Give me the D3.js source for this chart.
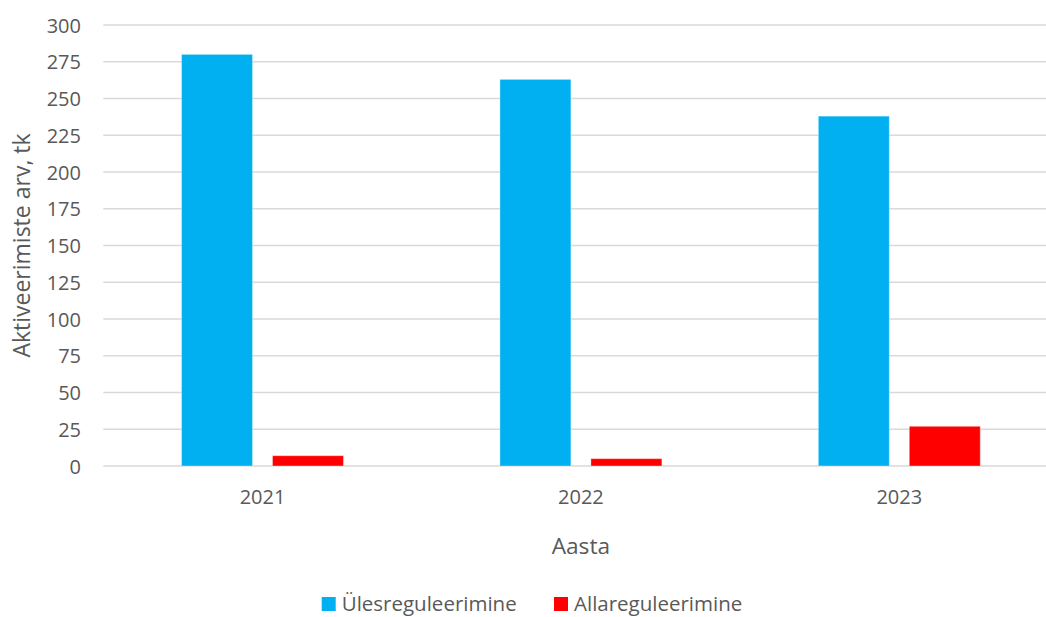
<!DOCTYPE html>
<html>
<head>
<meta charset="utf-8">
<script src="https://cdn.jsdelivr.net/npm/d3@7"></script>
<style>
  html, body { margin: 0; padding: 0; background: #fff; overflow: hidden; }
  svg { display: block; font-family: "Open Sans", "Noto Sans", sans-serif; }
</style>
</head>
<body>
<svg id="chart" width="1046" height="617"></svg>
<script>
// Activation counts per year, upward and downward regulation
const years = ["2021", "2022", "2023"];
const seriesNames = ["Ülesreguleerimine", "Allareguleerimine"];
const upValues = [280, 263, 238];
const downValues = [7, 5, 27];
const yTicks = [0, 25, 50, 75, 100, 125, 150, 175, 200, 225, 250, 275, 300];
const colors = ["#00b0f0", "#ff0000"];

const rows = years.map((y, i) => ({ year: y, values: [upValues[i], downValues[i]] }));

const svg = d3.select("#chart");
const textColor = "#595959";

const plot = { left: 103.3, right: 1058.5, top: 25, bottom: 466 };

const x0 = d3.scaleBand().domain(years).range([plot.left, plot.right]).padding(0);
const x1 = d3.scaleBand().domain(d3.range(seriesNames.length))
  .range([0, x0.bandwidth()]).paddingInner(0.22).paddingOuter(0.86);
const y = d3.scaleLinear().domain([0, 300]).range([plot.bottom, plot.top]);

// Horizontal gridlines
svg.append("g").selectAll("line").data(yTicks).join("line")
  .attr("x1", plot.left).attr("x2", 1046)
  .attr("y1", d => y(d)).attr("y2", d => y(d))
  .attr("stroke", "#d9d9d9").attr("stroke-width", 1.4);

// Y axis tick labels
const yAxis = d3.axisLeft(y).tickValues(yTicks).tickSize(0).tickPadding(0);
const gy = svg.append("g").attr("transform", "translate(81,0)").call(yAxis);
gy.select(".domain").remove();
gy.selectAll("text")
  .attr("fill", textColor).attr("font-size", 20)
  .attr("font-family", "Open Sans").attr("dy", "0.35em");

// X axis tick labels
const xAxis = d3.axisBottom(x0).tickSize(0).tickPadding(0);
const gx = svg.append("g").attr("transform", "translate(0,490)").call(xAxis);
gx.select(".domain").remove();
gx.selectAll("text")
  .attr("fill", textColor).attr("font-size", 20)
  .attr("font-family", "Open Sans").attr("dy", "0.71em");

// Bars
const groups = svg.append("g").selectAll("g").data(rows).join("g")
  .attr("transform", d => `translate(${x0(d.year)},0)`);
groups.selectAll("rect").data(d => d.values.map((v, i) => ({ v, i }))).join("rect")
  .attr("x", d => x1(d.i))
  .attr("width", x1.bandwidth())
  .attr("y", d => y(d.v))
  .attr("height", d => y(0) - y(d.v))
  .attr("fill", d => colors[d.i])
  .attr("stroke", "rgba(255,255,255,0.35)")
  .attr("stroke-width", 1);

// Axis titles
svg.append("text")
  .attr("transform", `translate(29.5,${(plot.top + plot.bottom) / 2}) rotate(-90)`)
  .attr("text-anchor", "middle")
  .attr("fill", textColor).attr("font-size", 23)
  .text("Aktiveerimiste arv, tk");

svg.append("text")
  .attr("x", x0("2022") + x0.bandwidth() / 2).attr("y", 554)
  .attr("text-anchor", "middle")
  .attr("fill", textColor).attr("font-size", 22.7)
  .text("Aasta");

// Legend
const legendX = [321.7, 554];
const legend = svg.append("g").selectAll("g").data(seriesNames).join("g")
  .attr("transform", (d, i) => `translate(${legendX[i]},0)`);
legend.append("rect")
  .attr("x", 0).attr("y", 597).attr("width", 14).attr("height", 14)
  .attr("fill", (d, i) => colors[i]);
legend.append("text")
  .attr("x", 20).attr("y", 611)
  .attr("fill", textColor).attr("font-size", 20.5)
  .text(d => d);
</script>
</body>
</html>
